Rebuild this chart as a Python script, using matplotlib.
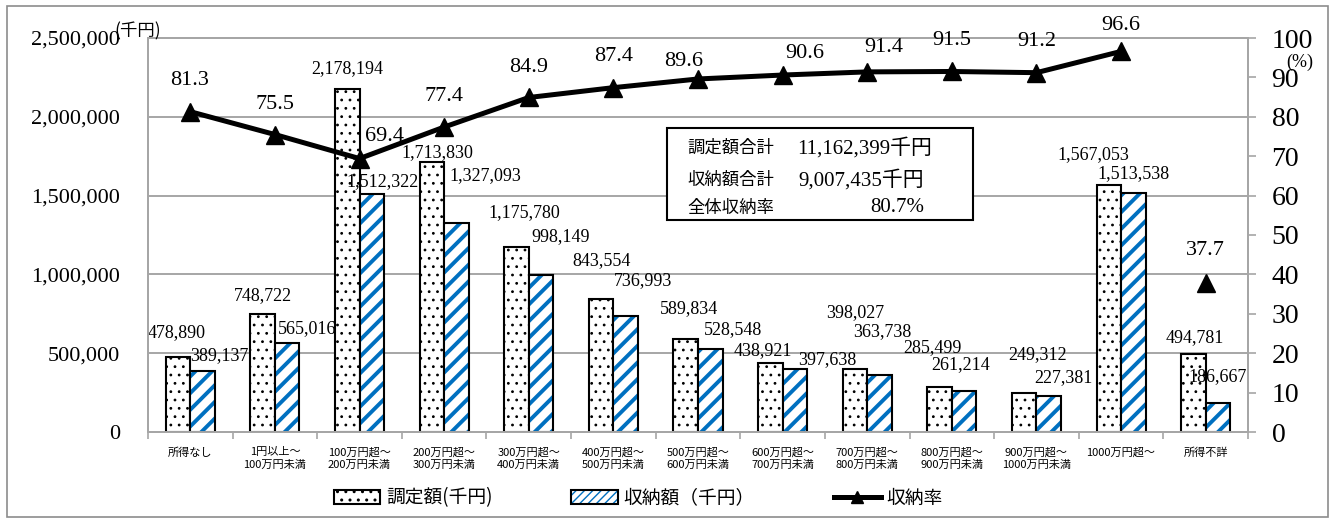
import matplotlib
matplotlib.use("Agg")
import matplotlib.pyplot as plt
from matplotlib.patches import Patch, Rectangle
from matplotlib.lines import Line2D
from matplotlib.legend_handler import HandlerTuple
from matplotlib.ticker import FuncFormatter, FixedLocator
import numpy as np

plt.rcParams["font.family"] = ["Liberation Serif", "Noto Sans CJK JP"]
CJK = ["Noto Sans CJK JP", "Liberation Serif"]

# ── data ────────────────────────────────────────────────────────────────────
categories = [
    "所得なし", "1円以上～\n100万円未満", "100万円超～\n200万円未満",
    "200万円超～\n300万円未満", "300万円超～\n400万円未満", "400万円超～\n500万円未満",
    "500万円超～\n600万円未満", "600万円超～\n700万円未満", "700万円超～\n800万円未満",
    "800万円超～\n900万円未満", "900万円超～\n1000万円未満", "1000万円超～", "所得不詳",
]
assessed = [478890, 748722, 2178194, 1713830, 1175780, 843554, 589834,
            438921, 398027, 285499, 249312, 1567053, 494781]
collected = [389137, 565016, 1512322, 1327093, 998149, 736993, 528548,
             397638, 363738, 261214, 227381, 1513538, 186667]
rate = [81.3, 75.5, 69.4, 77.4, 84.9, 87.4, 89.6, 90.6, 91.4, 91.5, 91.2, 96.6, 37.7]

total_assessed = "11,162,399千円"
total_collected = "9,007,435千円"
total_rate = "80.7%"

# label nudges (pixels) so the value labels don't collide
assessed_dx = [-1, 0, 0, 5, 8, 0, 3, -7, 0, -7, 13, -15, 1]
assessed_dy = [24, 18, 20, 9, 34, 38, 30, 12, 57, 39, 38, 30, 16]
collected_dx = [17, 20, 11, 29, 20, 17, 23, 32, 3, -3, 15, 0, 0]
collected_dy = [15, 14, 12, 47, 38, 35, 19, 10, 43, 26, 19, 20, 26]
rate_dx = [-1, 0, 25, 0, 0, 0, -14, 22, 17, 0, 0, 0, 0]
rate_dy = [31, 30, 22, 31, 30, 31, 17, 22, 24, 31, 31, 26, 33]

BLUE = "#0070C0"
GRID = "#A6A6A6"
W = 0.29

fig = plt.figure(figsize=(13.31, 5.2), dpi=100)
fig.add_artist(Rectangle((7 / 1331, 3 / 520), 1321 / 1331, 511 / 520, transform=fig.transFigure,
                         fill=False, edgecolor="#8C8C8C", linewidth=1.2))
ax = fig.add_axes([148 / 1331, 88 / 520, 1100 / 1331, 394 / 520])
ax2 = ax.twinx()

x = np.arange(len(categories))

# dotted bars
with plt.rc_context({"hatch.linewidth": 0.8}):
    ax.bar(x - W / 2, assessed, W, facecolor="white", edgecolor="black",
           hatch="..", linewidth=1.5, zorder=3)
# striped bars: blue hatch, then black outline on top
with plt.rc_context({"hatch.linewidth": 2.8}):
    ax.bar(x + W / 2, collected, W, facecolor="white", edgecolor=BLUE,
           hatch="//", linewidth=0, zorder=3)
ax.bar(x + W / 2, collected, W, fill=False, edgecolor="black", linewidth=1.5, zorder=4)

for i in range(len(x)):
    ax.annotate(f"{assessed[i]:,}", (x[i] - W / 2, assessed[i]),
                xytext=(assessed_dx[i], assessed_dy[i]), textcoords="offset pixels",
                ha="center", va="center", fontsize=13, zorder=6)
    ax.annotate(f"{collected[i]:,}", (x[i] + W / 2, collected[i]),
                xytext=(collected_dx[i], collected_dy[i]), textcoords="offset pixels",
                ha="center", va="center", fontsize=13, zorder=6)

ax.set_xlim(-0.5, len(x) - 0.5)
ax.set_ylim(0, 2500000)
ax.set_yticks(np.arange(0, 2500001, 500000))
ax.yaxis.set_major_formatter(FuncFormatter(lambda v, _: f"{int(v):,}"))
ax.tick_params(axis="y", length=0, pad=20, labelsize=16)
ax.grid(axis="y", color=GRID, linewidth=1.4, zorder=0)
ax.set_axisbelow(True)

ax.set_xticks(x)
ax.set_xticklabels(categories, fontsize=8, family=CJK, linespacing=1.3, va="top")
ax.xaxis.set_minor_locator(FixedLocator(np.arange(-0.5, len(x), 1)))
ax.tick_params(axis="x", which="major", length=0, pad=11)
ax.tick_params(axis="x", which="minor", length=5, color=GRID, width=1.2)

for a in (ax, ax2):
    for s in a.spines.values():
        s.set_color(GRID)
        s.set_linewidth(1.4)

# collection rate line (the unknown-income bracket is shown on its own)
ax2.plot(x[:-1], rate[:-1], color="black", linewidth=3.6, marker="^",
         markersize=13, zorder=5)
ax2.plot(x[-1:], rate[-1:], color="black", linestyle="none", marker="^",
         markersize=13, zorder=5)
for i in range(len(x)):
    ax2.annotate(f"{rate[i]:.1f}", (x[i], rate[i]),
                 xytext=(rate_dx[i], rate_dy[i]), textcoords="offset pixels",
                 ha="center", va="center", fontsize=16)
ax2.set_ylim(0, 100)
ax2.set_yticks(np.arange(0, 101, 10))
ax2.tick_params(axis="y", direction="out", length=6, width=1.2, color=GRID,
                pad=11, labelsize=20)

fig.text(138 / 1331, 1 - 31 / 520, "(千円)", fontsize=12.5, family=CJK,
         ha="center", va="center")
fig.text(1300 / 1331, 1 - 62 / 520, "(%)", fontsize=13, ha="center", va="center")

# totals box
fig.add_artist(Rectangle((667 / 1331, 1 - 220 / 520), 306 / 1331, 92 / 520,
                         transform=fig.transFigure, facecolor="white",
                         edgecolor="black", linewidth=1.5, zorder=10))
box_rows = [("調定額合計", total_assessed, 797), ("収納額合計", total_collected, 798),
            ("全体収納率", total_rate, 870)]
for (name, val, vx), ty in zip(box_rows, [148, 180, 208]):
    fig.text(687 / 1331, 1 - ty / 520, name, fontsize=12.5, family=CJK,
             va="center", zorder=11)
    fig.text(vx / 1331, 1 - ty / 520, val, fontsize=15,
             family=["Liberation Serif", "Noto Sans CJK JP"], va="center", zorder=11)

# legend
h_dots = Patch(facecolor="white", edgecolor="black", hatch="..", linewidth=1.5)
h_stripe = Patch(facecolor="white", edgecolor=BLUE, hatch="////", linewidth=0)
h_border = Patch(fill=False, edgecolor="black", linewidth=1.5)
h_line = Line2D([], [], color="black", linewidth=3.6, marker="^", markersize=8)
fig.legend([h_dots, (h_stripe, h_border), h_line],
           ["調定額(千円)", "収納額（千円）", "収納率"],
           handler_map={tuple: HandlerTuple(ndivide=1)},
           loc="center", bbox_to_anchor=(638 / 1331, 22 / 520), ncol=3,
           frameon=False, prop={"family": CJK, "size": 13.5},
           handlelength=2.5, handleheight=0.7, handletextpad=0.3, columnspacing=4.2)

fig.savefig("out.png", dpi=100)
